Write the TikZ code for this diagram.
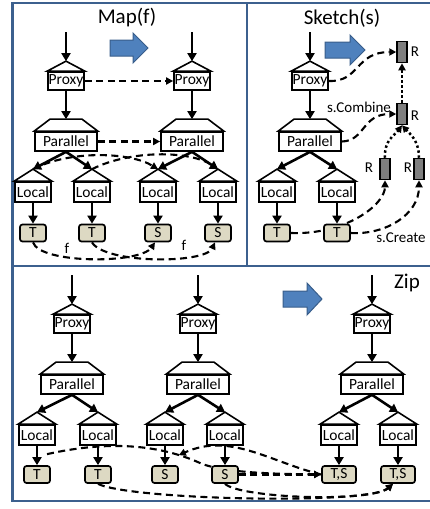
\documentclass[tikz,border=0pt]{standalone}
\usepackage{fontspec}
\setmainfont{Carlito}
\usetikzlibrary{arrows.meta,calc}
\definecolor{frameblue}{RGB}{60,96,142}
\definecolor{leaftan}{RGB}{221,217,195}
\definecolor{rgray}{RGB}{127,127,127}
\definecolor{arrowblue}{RGB}{79,129,189}
\definecolor{arrowedge}{RGB}{56,93,138}
\pgfdeclarelayer{bg}
\pgfsetlayers{bg,main}
\tikzset{
 frameline/.style={draw=frameblue, line width=2.8pt},
 boxbase/.style={draw=black, line width=1.7pt, fill=white, inner sep=0pt, font=\fontsize{15.5}{15.5}\selectfont},
 proxybox/.style={boxbase, minimum width=36pt, minimum height=18pt},
 parbox/.style={boxbase, minimum width=62pt, minimum height=19pt},
 localbox/.style={boxbase, minimum width=36pt, minimum height=20pt},
 leafbox/.style={boxbase, fill=leaftan, rounded corners=2.5pt, minimum height=17pt},
 rbox/.style={draw=black, line width=1.5pt, fill=rgray, minimum width=10pt, minimum height=21pt, inner sep=0pt},
 roofline/.style={draw=black, line width=1.6pt, fill=white, line join=miter},
 flow/.style={draw=black, line width=2.6pt, -{Triangle[length=8pt,width=9pt]}},
 dasharrow/.style={draw=black, line width=2.1pt, dash pattern=on 7pt off 4.5pt, -{Triangle[length=7pt,width=7pt]}},
 dotarrow/.style={draw=black, line width=2.5pt, dash pattern=on 2.4pt off 2.6pt, -{Triangle[length=7pt,width=7pt]}},
 bigarrow/.style={fill=arrowblue, draw=arrowedge, line width=1pt},
 titletext/.style={font=\fontsize{21}{21}\selectfont, inner sep=0pt},
 lbl/.style={font=\fontsize{15}{15}\selectfont, inner sep=0pt},
}
\newcommand\triroof[2]{%
  \path[roofline] (#1.north west) -- ([yshift=#2]#1.north) -- (#1.north east) -- cycle;
  \coordinate (#1-top) at ([yshift=#2]#1.north);}
\newcommand\traproof[1]{%
  \path[roofline] (#1.north west) -- ([xshift=-16pt,yshift=12pt]#1.north) -- ([xshift=16pt,yshift=12pt]#1.north) -- (#1.north east) -- cycle;
  \coordinate (#1-top) at ([yshift=12pt]#1.north);}
% #1 prefix, #2 x, #3 dy, #4 x local1, #5 x local2, #6 leaf1, #7 leaf2, #8 leaf y, #9 leaf width
\newcommand\treecol[9]{%
  \coordinate (#1in) at (#2,32+#3);
  \node[proxybox] (#1px) at (#2,81+#3) {Proxy};
  \triroof{#1px}{10pt}
  \node[parbox] (#1pa) at (#2,141.5+#3) {Parallel};
  \traproof{#1pa}
  \node[localbox] (#1la) at (#4,192+#3) {Local};
  \triroof{#1la}{12pt}
  \node[localbox] (#1lb) at (#5,192+#3) {Local};
  \triroof{#1lb}{12pt}
  \node[leafbox, minimum width=#9] (#1fa) at (#4,#8) {#6};
  \node[leafbox, minimum width=#9] (#1fb) at (#5,#8) {#7};
  \draw[flow] (#1in) -- (#1px-top);
  \draw[flow] (#1px.south) -- (#1pa-top);
  \draw[flow] (#1pa.south) -- (#1la-top);
  \draw[flow] (#1pa.south) -- (#1lb-top);
  \draw[flow] (#1la.south) -- (#1fa.north);
  \draw[flow] (#1lb.south) -- (#1fb.north);
}
\begin{document}
\begin{tikzpicture}[x=1pt,y=-1pt]
\useasboundingbox (0,0) rectangle (430,509);
% panel frames
\draw[frameline] (430,3) -- (12.5,3) -- (12.5,501) -- (430,501);
\draw[frameline] (247,3) -- (247,266);
\draw[frameline] (12.5,266) -- (430,266);
% titles
\node[titletext] (tmap) at (127,18) {Map(f)};
\node[titletext] (tsk) at (342,18) {Sketch(s)};
\node[titletext] (tzip) at (407,283) {Zip};
% blue block arrows
\path[bigarrow] (110,40) -- (133,40) -- (133,33) -- (148,48) -- (133,63) -- (133,56) -- (110,56) -- cycle;
\path[bigarrow] (325,42) -- (350,42) -- (350,35) -- (365,50) -- (350,65) -- (350,58) -- (325,58) -- cycle;
\path[bigarrow] (283,291) -- (307,291) -- (307,283) -- (322,299) -- (307,315) -- (307,307) -- (283,307) -- cycle;
% Map(f)
\treecol{ma}{66}{0}{33}{92}{T}{T}{233}{26pt}
\treecol{mb}{192}{0}{158}{218}{S}{S}{233}{26pt}
% Sketch(s)
\treecol{sk}{310}{0}{277}{337}{T}{T}{233}{26pt}
\node[rbox] (ra) at (402,52) {};
\node[rbox] (rb) at (402,114) {};
\node[rbox] (rc) at (385,169) {};
\node[rbox] (rd) at (419,169) {};
\node[lbl] (lra) at (415,52) {R};
\node[lbl] (lrb) at (415,116) {R};
\node[lbl] (lrc) at (369,168) {R};
\node[lbl] (lrd) at (408,168) {R};
\node[lbl] (scomb) at (359,107) {s.Combine};
\node[lbl] (screa) at (401,238) {s.Create};
% Zip
\treecol{za}{72}{243}{37}{98}{T}{T}{474.5}{26pt}
\treecol{zb}{198}{243}{165}{225}{S}{S}{474.5}{26pt}
\treecol{zc}{372}{243}{339}{398}{T,S}{T,S}{474.5}{34pt}
% f labels
\node[lbl] (fa) at (67,248) {f};
\node[lbl] (fb) at (184,245) {f};
\begin{pgfonlayer}{bg}
% Map dashed
\draw[dasharrow] (mapx.east) -- (mbpx.west);
\draw[dasharrow] (mapa.east) -- (mbpa.west);
\draw[dasharrow] (mala-top) .. controls (70,150) and (130,152) .. (mbla-top);
\draw[dasharrow] (malb-top) .. controls (130,150) and (190,150) .. (mblb-top);
\draw[dasharrow] (mafa.south) .. controls (40,264) and (140,264) .. ([xshift=-3pt]mbfa.south);
\draw[dasharrow] (mafb.south) .. controls (105,264) and (205,264) .. ([xshift=-3pt]mbfb.south);
% Sketch dashed / dotted
\draw[dasharrow] (skpx.east) .. controls (360,82) and (355,52) .. (ra.west);
\draw[dasharrow] (skpa.east) .. controls (365,141) and (362,114) .. (rb.west);
\draw[dasharrow] (skfa.east) .. controls (345,235) and (385,205) .. (rc.south);
\draw[dasharrow] (skfb.east) .. controls (385,235) and (419,215) .. (rd.south);
\draw[dotarrow] (rb.north) -- (ra.south);
\draw[dotarrow] (rc.north) .. controls (384,140) and (395,135) .. (rb.south);
\draw[dotarrow] (rd.north) .. controls (419,140) and (409,133) .. (rb.south);
% Zip dashed
\coordinate (zstart) at ([xshift=10pt,yshift=11pt]zafa.north);
\draw[dasharrow] (zstart) .. controls (110,440) and (160,445) .. (200,463) .. controls (225,474) and (290,474) .. (zcfa.west);
\draw[dasharrow] (zcfa.west) .. controls (270,462) and (230,432) .. ([yshift=10pt]zbfa.north east);
\draw[dasharrow] (zbfb.east) -- (zcfa.west);
\draw[dasharrow] (zafb.south) .. controls (130,500) and (370,505) .. ([xshift=-5pt]zcfb.south);
\draw[dasharrow] (zbfb.south) .. controls (240,498) and (370,503) .. ([xshift=-5pt]zcfb.south);
\end{pgfonlayer}
\end{tikzpicture}
\end{document}
